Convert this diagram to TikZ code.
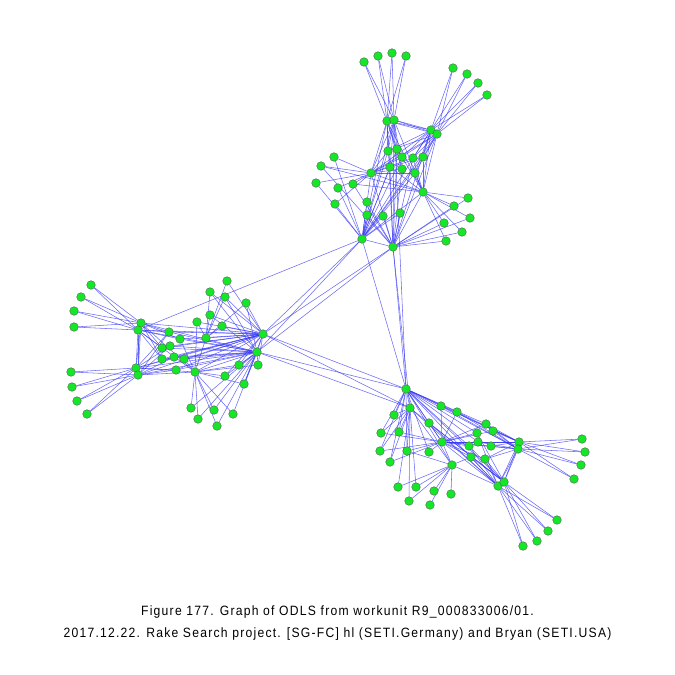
\documentclass[tikz,border=0pt]{standalone}
\usepackage{fontspec}
\setmainfont{Liberation Sans}[FakeStretch=0.9,LetterSpace=9.2]
\usetikzlibrary{backgrounds}
\definecolor{ngreen}{RGB}{20,230,40}
\definecolor{nedge}{RGB}{80,100,80}
\definecolor{eblue}{RGB}{50,50,245}
\tikzset{
  v/.style={circle,fill=ngreen,draw=nedge,line width=0.4pt,minimum size=8.6pt,inner sep=0pt},
  e/.style={draw=eblue,line width=0.55pt,opacity=0.72},
  captext/.style={font=\fontsize{13.5}{15}\selectfont,inner sep=0pt,anchor=base}
}
\begin{document}
\begin{tikzpicture}[x=1pt,y=-1pt]
\useasboundingbox (0,0) rectangle (675,675);
% ---------- top cluster
\foreach \nm/\x/\y in {t1/364/62,t2/378/56,t3/392/53,t4/406/56,t5/453/68,t6/467/74,t7/478/83,t8/487/95,
  ta/387/121,tb/394/120,tc/431/130,td/437/134,
  m1/388/151,m2/397/149,m3/402/157,m4/413/158,m5/423/157,m6/390/167,m7/402/169,m8/415/173,
  te/371/173,l1/334/157,l2/321/166,l3/316/183,l4/338/188,l5/353/184,l6/335/204,
  tf/423/192,l7/367/202,l8/367/215,l9/383/216,l10/400/213,
  r1/468/198,r2/454/206,r3/470/218,r4/444/223,r5/462/232,r6/446/241,
  tg/362/239,th/393/247}
  \node[v] (\nm) at (\x,\y) {};
% ---------- left cluster
\foreach \nm/\x/\y in {a1/91/285,a2/81/297,a3/74/311,a4/74/327,a5/71/372,a6/72/387,a7/77/401,a8/87/414,
  La/141/323,Lb/138/330,Lc/136/368,Ld/138/375,
  i1/169/332,i2/180/339,i3/162/348,i4/170/346,i5/162/359,i6/174/357,i7/184/359,i8/176/370,
  u1/197/322,u2/206/338,u3/210/315,u4/210/292,u5/227/281,u6/225/297,u7/246/303,u8/222/326,
  Le/263/334,Lf/257/352,v1/258/365,v2/239/365,v3/225/376,v4/244/384,Lg/195/372,
  w1/191/408,w2/198/419,w3/214/410,w4/233/414,w5/217/426}
  \node[v] (\nm) at (\x,\y) {};
% ---------- bottom-right cluster
\foreach \nm/\x/\y in {Ba/406/389,b1/410/408,b2/394/415,b3/441/406,b4/457/412,b5/429/423,b6/381/433,b7/399/432,
  b8/380/451,b9/407/451,b10/390/462,b11/429/452,Bb/442/442,
  c1/486/424,c2/477/433,c3/493/431,c4/478/442,c5/469/446,c6/491/446,c7/471/457,c8/485/459,
  Bc/519/442,Bd/518/449,d1/582/439,d2/585/452,d3/581/465,d4/574/479,Be/452/465,
  e1/398/487,e2/416/487,e3/434/491,e4/451/494,e5/409/501,e6/430/505,
  Bf/498/486,Bg/504/482,f1/557/520,f2/548/531,f3/537/541,f4/523/546}
  \node[v] (\nm) at (\x,\y) {};
\begin{scope}[on background layer]
% top cluster edges
\foreach \s in {t1,t2,t3,t4} \foreach \t in {ta,tb} \draw[e] (\s) -- (\t);
\foreach \s in {t5,t6,t7,t8} \foreach \t in {tc,td} \draw[e] (\s) -- (\t);
\foreach \s in {ta,tb} \foreach \t in {tc,td,te,tg,th,m1,m2,m6,m7,tf} \draw[e] (\s) -- (\t);
\foreach \s in {tc,td} \foreach \t in {m1,m3,m4,m5,te,tf,tg,th,m8} \draw[e] (\s) -- (\t);
\foreach \t in {l1,l2,l3,l4,l5,l6,m1,m3,m4,m5,m7,m8,tg,th,tf} \draw[e] (te) -- (\t);
\foreach \t in {r1,r2,r3,r4,r5,r6,m2,m4,m5,m6,m8,tg,th,l5,l2} \draw[e] (tf) -- (\t);
\foreach \t in {l3,l4,l6,l7,l8,l9,l10,m1,m2,m3,m6,m8,l1,m5} \draw[e] (tg) -- (\t);
\foreach \t in {r1,r2,r3,r4,r5,r6,l7,l8,l9,l10,m2,m4,m6,m7,l2,l5} \draw[e] (th) -- (\t);
\draw[e] (tg) -- (th);
% left cluster edges
\foreach \s in {a1,a2,a3,a4} \foreach \t in {La,Lb} \draw[e] (\s) -- (\t);
\foreach \s in {a5,a6,a7,a8} \foreach \t in {Lc,Ld} \draw[e] (\s) -- (\t);
\foreach \s in {La,Lb} \foreach \t in {Lc,Ld,Le,Lf,i1,i2,i3,i5,Lg} \draw[e] (\s) -- (\t);
\foreach \s in {Lc,Ld} \foreach \t in {Le,Lf,Lg,i4,i6,i8,i1} \draw[e] (\s) -- (\t);
\foreach \s in {i1,i2,i3,i4,i5,i6,i7,i8} \foreach \t in {Le,Lf} \draw[e] (\s) -- (\t);
\foreach \s in {u1,u3,u4,u5,u6,u7,u8} \draw[e] (\s) -- (u2);
\foreach \s in {u1,u2,u3,u4,u5,u6,u7,u8} \draw[e] (\s) -- (Le);
\foreach \s in {u3,u4,u6,u7} \draw[e] (\s) -- (Lf);
\foreach \s in {v1,v2,v3,v4} \foreach \t in {Le,Lf,Lg} \draw[e] (\s) -- (\t);
\foreach \s in {w1,w2,w3,w4,w5} \foreach \t in {Lg,Lf} \draw[e] (\s) -- (\t);
\foreach \t in {Le,Lf,i2,i7,u1,u2} \draw[e] (Lg) -- (\t);
\draw[e] (Le) -- (Lf);
% bottom-right cluster edges
\foreach \t in {b1,b2,b3,b4,b5,b6,b7,b8,b9,b10,b11,Bb,Bc,Bd,Be,c1,c2,c4,c5,Bf,Bg} \draw[e] (Ba) -- (\t);
\foreach \s in {b2,b6,b7,b8,b9,b10} \draw[e] (\s) -- (b1);
\foreach \s in {b6,b7,b8,b9,b10,b11,b5,b3,b4} \draw[e] (\s) -- (Bb);
\foreach \t in {c1,c2,c3,c4,c5,c6,c7,c8,Bc,Bd,Bf,Be} \draw[e] (Bb) -- (\t);
\foreach \s in {Bc,Bd} \foreach \t in {d1,d2,d3,d4,c1,c3,c4,c6,c8,Bf,Bg,b3,b4} \draw[e] (\s) -- (\t);
\foreach \t in {e1,e2,e3,e4,e5,e6,Bf,b1,b9,c7} \draw[e] (Be) -- (\t);
\foreach \s in {e1,e2,e5} \draw[e] (\s) -- (b1);
\foreach \s in {Bf,Bg} \foreach \t in {f1,f2,f3,f4,c2,c5,c7,c8,b1,b5} \draw[e] (\s) -- (\t);
% inter-cluster edges
\foreach \s in {tg,th} \foreach \t in {Le,Lf} \draw[e] (\s) -- (\t);
\draw[e] (tg) -- (Lb);
\foreach \s in {tg,th,tb} \draw[e] (\s) -- (Ba);
\draw[e] (th) -- (b1);
\foreach \s in {Le,Lf} \foreach \t in {Ba,b1} \draw[e] (\s) -- (\t);
\end{scope}
\node[captext] (c1t) at (337.5,615.5) {Figure 177. Graph of ODLS from workunit R9\_000833006/01.};
\node[captext] (c2t) at (337.5,637) {2017.12.22. Rake Search project. [SG-FC] hl (SETI.Germany) and Bryan (SETI.USA)};
\end{tikzpicture}
\end{document}
